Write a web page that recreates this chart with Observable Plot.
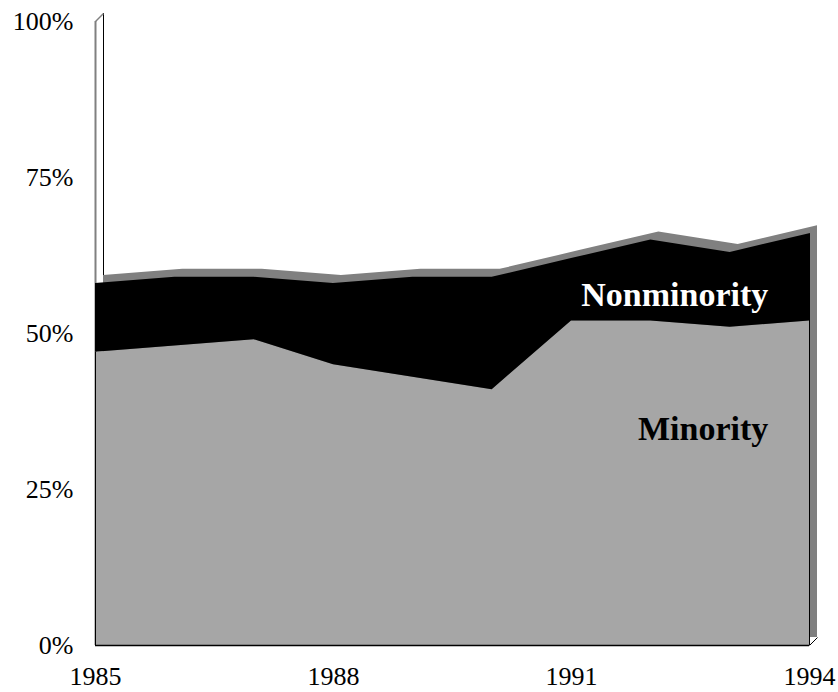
<!DOCTYPE html>
<html>
<head>
<meta charset="utf-8">
<script src="https://cdn.jsdelivr.net/npm/d3@7"></script>
<script src="https://cdn.jsdelivr.net/npm/@observablehq/plot@0.6"></script>
<style>
  html, body { margin: 0; padding: 0; background: #ffffff; }
  #chart svg { display: block; }
</style>
</head>
<body>
<div id="chart"></div>
<script>
// ---- Data ----
const years = [1985, 1986, 1987, 1988, 1989, 1990, 1991, 1992, 1993, 1994];
const minorityShare = [47, 48, 49, 45, 43, 41, 52, 52, 51, 52];
const totalShare    = [58, 59, 59, 58, 59, 59, 62, 65, 63, 66];
const xTickYears = [1985, 1988, 1991, 1994];
const yTickValues = [0, 25, 50, 75, 100];
const seriesLabels = ["Nonminority", "Minority"];

// ---- Layout ----
const W = 838, H = 692;
const mL = 95, mR = 29, mT = 21, mB = 47;
const DEPTH = 8; // px of the 3-D depth offset
const pxPerYear = (W - mL - mR) / (years[years.length - 1] - years[0]);
const pxPerPct = (H - mT - mB) / 100;
const depthX = DEPTH / pxPerYear;  // depth in data units
const depthY = DEPTH / pxPerPct;

const rows = years.map((y, i) => ({
  year: y,
  minority: minorityShare[i],
  total: totalShare[i]
}));

const labels = [
  {text: seriesLabels[0], x: 1993.48, y: 56.2, fill: "#ffffff"},
  {text: seriesLabels[1], x: 1993.48, y: 34.7, fill: "#000000"}
];

const first = years[0], last = years[years.length - 1];

const chart = Plot.plot({
  width: W,
  height: H,
  marginLeft: mL,
  marginRight: mR,
  marginTop: mT,
  marginBottom: mB,
  style: {fontFamily: "Liberation Serif", background: "#ffffff", color: "#000000"},
  x: {domain: [first, last], label: null},
  y: {domain: [0, 100], label: null},
  marks: [
    // back wall left edge
    Plot.ruleX([first], {y1: 0, y2: 100, stroke: "#000000", strokeWidth: 1, dx: DEPTH, dy: -DEPTH}),
    // side wall top diagonal
    Plot.link([0], {x1: first, y1: 100, x2: first + depthX, y2: 100 + depthY, stroke: "#808080", strokeWidth: 1.5}),
    // side wall front edge
    Plot.ruleX([first], {y1: 0, y2: 100, stroke: "#808080", strokeWidth: 2}),
    // 3-D depth copy of the stacked total (gives top and right faces)
    Plot.areaY(rows, {x: "year", y1: 0, y2: "total", fill: "#808080", dx: DEPTH, dy: -DEPTH}),
    // front faces
    Plot.areaY(rows, {x: "year", y1: 0, y2: "minority", fill: "#a6a6a6"}),
    Plot.areaY(rows, {x: "year", y1: "minority", y2: "total", fill: "#000000"}),
    // front edges
    Plot.ruleY([0], {x1: first, x2: last, stroke: "#000000", strokeWidth: 1.5}),
    Plot.ruleX([first], {y1: 0, y2: minorityShare[0], stroke: "#000000", strokeWidth: 1}),
    Plot.ruleX([last], {y1: 0, y2: totalShare[totalShare.length - 1], stroke: "#000000", strokeWidth: 1}),
    Plot.link([0], {x1: last, y1: 0, x2: last + depthX, y2: depthY, stroke: "#000000", strokeWidth: 1}),
    // axes
    Plot.axisX({ticks: xTickYears, tickFormat: d => String(d), tickSize: 0, tickPadding: 21,
                fontSize: 26, fontFamily: "Liberation Serif", label: null}),
    Plot.axisY({ticks: yTickValues, tickFormat: d => d + "%", tickSize: 0, tickPadding: 22,
                fontSize: 26, fontFamily: "Liberation Serif", label: null}),
    // series labels
    Plot.text(labels, {x: "x", y: "y", text: "text", fill: "fill", textAnchor: "end",
                       fontSize: 34, fontWeight: "bold", fontFamily: "Liberation Serif"})
  ]
});

document.getElementById("chart").appendChild(chart);
</script>
</body>
</html>
